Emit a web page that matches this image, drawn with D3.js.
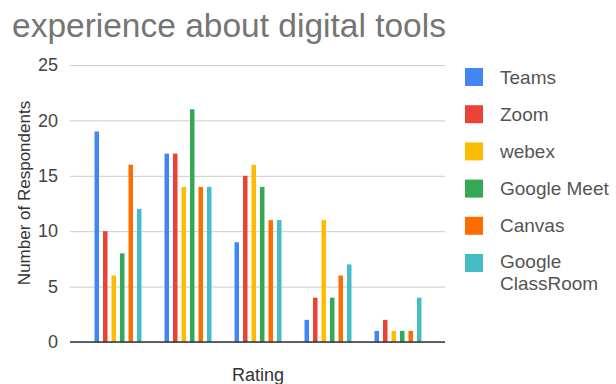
<!DOCTYPE html>
<html>
<head>
<meta charset="utf-8">
<script src="https://cdn.jsdelivr.net/npm/d3@7"></script>
<style>
  body { margin: 0; background: #fff; }
  text { font-family: "Liberation Sans", Arial, sans-serif; }
</style>
</head>
<body>
<script>
var width = 616;
var height = 384;

// data
var ratings = ["1", "2", "3", "4", "5"];
var series = ["Teams", "Zoom", "webex", "Google Meet", "Canvas", "Google ClassRoom"];
var teams = [19, 17, 9, 2, 1];
var zoom = [10, 17, 15, 4, 2];
var webex = [6, 14, 16, 11, 1];
var meet = [8, 21, 14, 4, 1];
var canvas = [16, 14, 11, 6, 1];
var classroom = [12, 14, 11, 7, 4];
var yTicks = [0, 5, 10, 15, 20, 25];
var colors = ["#4285F4", "#EA4335", "#FBBC04", "#34A853", "#FF6D01", "#46BDC6"];

var values = [teams, zoom, webex, meet, canvas, classroom];

var svg = d3.select("body").append("svg")
  .attr("width", width)
  .attr("height", height);

var x0 = d3.scaleBand()
  .domain(ratings)
  .range([83, 433])
  .paddingInner(0.3)
  .paddingOuter(0.15);

var x1 = d3.scaleBand()
  .domain(series)
  .range([0, x0.bandwidth()])
  .paddingInner(0.47)
  .paddingOuter(0.12);

var y = d3.scaleLinear()
  .domain([0, 25])
  .range([342, 65]);

var color = d3.scaleOrdinal().domain(series).range(colors);

// title
svg.append("text")
  .attr("x", 12)
  .attr("y", 37)
  .style("font-size", "33.5px")
  .style("fill", "#757575")
  .text("experience about digital tools");

// gridlines + tick labels
var yAxis = svg.append("g")
  .attr("transform", "translate(70,0)")
  .call(d3.axisLeft(y).tickValues(yTicks).tickSize(-375).tickPadding(12));
yAxis.select(".domain").remove();
yAxis.selectAll(".tick line").attr("stroke", "#cccccc");
yAxis.selectAll(".tick text")
  .style("font-size", "18px")
  .style("fill", "#444")
  .style("font-family", "'Liberation Sans', Arial, sans-serif");

// bars
var rows = ratings.map(function (r, i) {
  return { rating: r, vals: series.map(function (s, j) { return { key: s, value: values[j][i] }; }) };
});

var groups = svg.selectAll("g.group")
  .data(rows)
  .enter().append("g")
  .attr("class", "group")
  .attr("transform", function (d) { return "translate(" + x0(d.rating) + ",0)"; });

groups.selectAll("rect")
  .data(function (d) { return d.vals; })
  .enter().append("rect")
  .attr("x", function (d) { return x1(d.key); })
  .attr("y", function (d) { return y(d.value); })
  .attr("width", x1.bandwidth())
  .attr("height", function (d) { return y(0) - y(d.value); })
  .attr("fill", function (d) { return color(d.key); });

// baseline
svg.append("line")
  .attr("x1", 70).attr("x2", 445)
  .attr("y1", y(0)).attr("y2", y(0))
  .attr("stroke", "#333")
  .attr("stroke-width", 1.5);

// axis titles
svg.append("text")
  .attr("transform", "translate(30,193) rotate(-90)")
  .attr("text-anchor", "middle")
  .style("font-size", "17px")
  .style("fill", "#333")
  .text("Number of Respondents");

svg.append("text")
  .attr("x", 258)
  .attr("y", 381)
  .attr("text-anchor", "middle")
  .style("font-size", "18px")
  .style("fill", "#333")
  .text("Rating");

// legend
var legend = svg.selectAll("g.legend")
  .data(series)
  .enter().append("g")
  .attr("class", "legend")
  .attr("transform", function (d, i) { return "translate(465," + (77 + i * 37.2) + ")"; });

legend.append("rect")
  .attr("x", 0).attr("y", -9)
  .attr("width", 18).attr("height", 18)
  .attr("fill", function (d) { return color(d); });

// two-line label for the last entry, drawn as separate texts
legend.each(function (d) {
  var words = d == "Google ClassRoom" ? ["Google", "ClassRoom"] : [d];
  var g = d3.select(this);
  words.forEach(function (w, k) {
    g.append("text")
      .attr("x", 35)
      .attr("y", words.length > 1 ? -1.5 + k * 21.5 : 0)
      .attr("dy", "0.35em")
      .style("font-size", "19px")
      .style("fill", "#555")
      .text(w);
  });
});
</script>
</body>
</html>
